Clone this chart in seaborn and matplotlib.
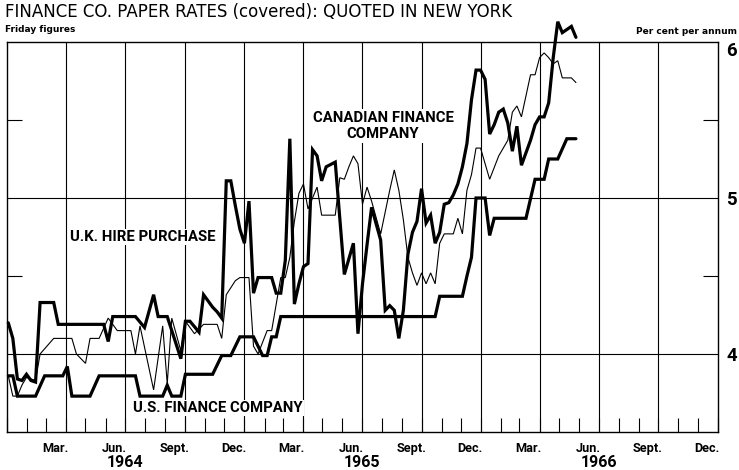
import matplotlib
matplotlib.use("Agg")
import matplotlib.pyplot as plt
import matplotlib.dates as mdates
from matplotlib import font_manager as fm
from matplotlib.ticker import FixedLocator
import seaborn as sns
import pandas as pd

# Friday figures; week 0 is Friday 3 January 1964
start = pd.Timestamp("1964-01-03")

us_weeks = [0, 1, 2, 6, 8, 12, 13, 14, 18, 20, 28, 29, 34, 35, 36, 38, 39, 45, 47, 49,
            51, 54, 56, 57, 58, 59, 60, 94, 95, 100, 101, 102, 103, 105, 106, 107, 114,
            116, 118, 119, 121, 123, 125]
us_rates = [3.86, 3.86, 3.73, 3.73, 3.86, 3.86, 3.92, 3.73, 3.73, 3.86, 3.86, 3.73, 3.73,
            3.80, 3.73, 3.73, 3.87, 3.87, 3.99, 3.99, 4.11, 4.11, 3.99, 3.99, 4.11, 4.11,
            4.24, 4.24, 4.37, 4.37, 4.50, 4.62, 5.00, 5.00, 4.76, 4.87, 4.87, 5.12, 5.12,
            5.25, 5.25, 5.38, 5.38]

uk_weeks = [0, 1, 2, 3, 4, 5, 6, 7, 10, 11, 21, 22, 23, 28, 30, 32, 33, 35, 38, 39, 40,
            42, 43, 45, 46, 47, 48, 49, 50, 51, 52, 53, 54, 55, 58, 59, 60, 61, 62, 63,
            64, 65, 66, 67, 68, 69, 70, 72, 74, 76, 77, 78, 79, 80, 82, 83, 84, 85, 86,
            87, 88, 89, 90, 91, 92, 93, 94, 95, 96, 97, 98, 99, 100, 101, 102, 103, 104,
            105, 106, 107, 108, 109, 110, 111, 112, 113, 115, 116, 117, 118, 119, 120,
            121, 122, 123, 124, 125]
uk_rates = [4.20, 4.10, 3.84, 3.83, 3.87, 3.83, 3.82, 4.33, 4.33, 4.19, 4.19, 4.08, 4.24,
            4.24, 4.17, 4.38, 4.24, 4.24, 3.97, 4.21, 4.21, 4.14, 4.38, 4.30, 4.27, 4.23,
            5.11, 5.11, 4.95, 4.80, 4.71, 4.98, 4.39, 4.49, 4.49, 4.39, 4.39, 4.60, 5.38,
            4.32, 4.45, 4.56, 4.58, 5.31, 5.27, 5.11, 5.20, 5.23, 4.51, 4.71, 4.13, 4.45,
            4.70, 4.94, 4.73, 4.28, 4.31, 4.28, 4.10, 4.28, 4.64, 4.78, 4.85, 5.06, 4.84,
            4.89, 4.71, 4.78, 4.96, 4.97, 5.02, 5.09, 5.20, 5.35, 5.63, 5.82, 5.82, 5.76,
            5.41, 5.47, 5.55, 5.57, 5.48, 5.30, 5.46, 5.21, 5.37, 5.47, 5.52, 5.52, 5.61,
            5.90, 6.13, 6.06, 6.08, 6.10, 6.03]

can_weeks = [0, 1, 2, 3, 4, 6, 7, 10, 14, 15, 17, 18, 20, 22, 24, 27, 28, 29, 32, 34, 35,
             36, 38, 39, 40, 41, 43, 46, 47, 48, 50, 51, 53, 54, 55, 57, 58, 60, 61, 62,
             63, 64, 65, 66, 68, 69, 72, 73, 74, 75, 76, 77, 78, 79, 80, 82, 84, 85, 86,
             87, 88, 89, 90, 91, 92, 93, 94, 95, 96, 98, 99, 100, 101, 102, 103, 104, 106,
             108, 110, 111, 112, 113, 115, 116, 117, 118, 119, 120, 121, 122, 124, 125]
can_rates = [3.86, 3.73, 3.73, 3.80, 3.85, 3.83, 4.00, 4.10, 4.10, 4.00, 3.94, 4.10, 4.10,
             4.23, 4.15, 4.15, 4.00, 4.18, 3.77, 4.18, 3.81, 4.23, 4.02, 4.21, 4.17, 4.13,
             4.19, 4.19, 4.10, 4.38, 4.47, 4.49, 4.49, 4.05, 4.00, 4.15, 4.15, 4.49, 4.49,
             4.62, 4.85, 5.03, 5.09, 4.93, 5.07, 4.89, 4.89, 5.13, 5.12, 5.20, 5.27, 5.22,
             4.96, 5.07, 4.98, 4.77, 5.05, 5.18, 5.05, 4.86, 4.62, 4.52, 4.44, 4.52, 4.45,
             4.52, 4.45, 4.71, 4.77, 4.77, 4.87, 4.77, 5.05, 5.15, 5.32, 5.32, 5.12, 5.27,
             5.37, 5.55, 5.59, 5.52, 5.79, 5.79, 5.90, 5.93, 5.90, 5.86, 5.88, 5.77, 5.77,
             5.74]

month_labels = ["Mar.", "Jun.", "Sept.", "Dec."]
years = [1964, 1965, 1966]
y_ticks = [4, 5, 6]


def frame(weeks, rates):
    dates = start + pd.to_timedelta([7 * w for w in weeks], unit="D")
    return pd.DataFrame({"date": dates, "rate": rates})


sns.set_theme(style="white")
plt.rcParams["font.family"] = ["DejaVu Sans"]
plt.rcParams["text.color"] = "black"
plt.rcParams["xtick.color"] = "black"
plt.rcParams["ytick.color"] = "black"

# a narrow bold face for the chart labels
names = {f.name for f in fm.fontManager.ttflist}
if "Liberation Sans Narrow" in names:
    narrow = dict(family=["Liberation Sans Narrow", "DejaVu Sans"])
    scale = 1.2
elif "Roboto" in names:
    narrow = dict(family=["Roboto", "DejaVu Sans"])
    scale = 0.96
else:
    narrow = dict(family=["DejaVu Sans"])
    scale = 0.8

W, H = 739, 470
fig = plt.figure(figsize=(W / 100, H / 100), dpi=100)
ax = fig.add_axes([7 / W, 38 / H, 711 / W, 390 / H])

sns.lineplot(data=frame(can_weeks, can_rates), x="date", y="rate", color="black",
             linewidth=0.8, ax=ax)
sns.lineplot(data=frame(us_weeks, us_rates), x="date", y="rate", color="black",
             linewidth=2.3, ax=ax)
sns.lineplot(data=frame(uk_weeks, uk_rates), x="date", y="rate", color="black",
             linewidth=2.3, ax=ax)
for ln in ax.lines:
    ln.set_clip_on(False)
    ln.set_solid_joinstyle("miter")

ax.set_xlim(pd.Timestamp("1964-01-01"), pd.Timestamp("1967-01-01"))
ax.set_ylim(3.5, 6.0)
ax.set_xlabel("")
ax.set_ylabel("")

# quarter grid and 4 / 5 per cent lines
for y in years:
    for m in (1, 4, 7, 10):
        if y == 1964 and m == 1:
            continue
        ax.axvline(pd.Timestamp(f"{y}-{m:02d}-01"), color="black", lw=0.8, zorder=0)
for v in (4, 5):
    ax.axhline(v, color="black", lw=0.8, zorder=0)

for s in ax.spines.values():
    s.set_color("black")
    s.set_linewidth(1.0)

# x axis: month labels mid-month, monthly ticks inside
label_pos = [mdates.date2num(pd.Timestamp(f"{y}-{m:02d}-15")) for y in years for m in (3, 6, 9, 12)]
ax.xaxis.set_major_locator(FixedLocator(label_pos))
ax.set_xticklabels(month_labels * len(years), fontweight="bold", fontsize=9.6 * scale, **narrow)
ax.xaxis.set_minor_locator(mdates.MonthLocator())
ax.tick_params(axis="x", which="major", length=0, pad=7)
ax.tick_params(axis="x", which="minor", direction="in", length=10, width=0.8, bottom=True,
               color="black")
for y in years:
    ax.text(pd.Timestamp(f"{y}-07-01"), -0.078, str(y), transform=ax.get_xaxis_transform(),
            ha="center", va="center", fontweight="bold", fontsize=12 * scale, **narrow)

# y axis on the right
ax.yaxis.tick_right()
ax.set_yticks(y_ticks)
ax.set_yticklabels([str(t) for t in y_ticks], fontweight="bold", fontsize=14 * scale, **narrow)
ax.get_yticklabels()[-1].set_verticalalignment("top")
ax.yaxis.set_minor_locator(FixedLocator([4.5, 5.5]))
ax.tick_params(axis="y", which="major", length=0, pad=6)
ax.tick_params(axis="y", which="minor", direction="in", length=11, width=0.8, left=True,
               right=True, color="black")

# titles
fig.text(5 / W, 1 - 12 / H, "FINANCE CO. PAPER RATES (covered): QUOTED IN NEW YORK",
         ha="left", va="center", fontsize=12)
fig.text(5 / W, 1 - 30 / H, "Friday figures", ha="left", va="center", fontsize=6.5,
         fontweight="bold")
fig.text(737 / W, 1 - 32 / H, "Per cent per annum", ha="right", va="center", fontsize=6.5,
         fontweight="bold")

# series labels
lab = dict(ha="center", va="center", fontweight="bold", fontsize=11.2 * scale,
           bbox=dict(facecolor="white", edgecolor="none", pad=1), **narrow)
fig.text(383 / W, 1 - 126 / H, "CANADIAN FINANCE\nCOMPANY", linespacing=1.25, **lab)
fig.text(143 / W, 1 - 237 / H, "U.K. HIRE PURCHASE", **lab)
fig.text(218 / W, 1 - 408 / H, "U.S. FINANCE COMPANY", **lab)

fig.savefig("out.png", dpi=100)
